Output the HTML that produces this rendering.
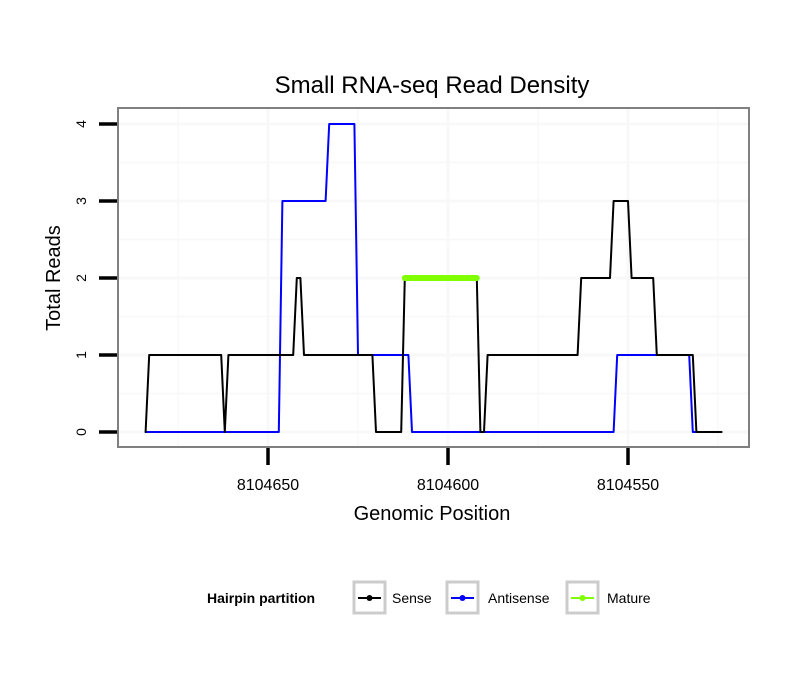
<!DOCTYPE html>
<html><head><meta charset="utf-8"><style>
body{margin:0;background:#fff;}
svg{display:block;font-family:"Liberation Sans",sans-serif;}
</style></head><body>
<svg id="chart" width="810" height="690">
<rect width="810" height="690" fill="#fff"/>
<text x="432" y="93" font-size="24" text-anchor="middle">Small RNA-seq Read Density</text>
<g id="grid"></g>
<g id="series"></g>
<rect x="118" y="108" width="631" height="339" fill="none" stroke="#808080" stroke-width="2"/>
<g id="axes"></g>
<text x="432" y="520" font-size="20" text-anchor="middle">Genomic Position</text>
<text transform="translate(60,278) rotate(-90)" font-size="20" text-anchor="middle">Total Reads</text>
<g>
<text x="207" y="603" font-size="14" font-weight="bold">Hairpin partition</text>
<g>
<rect x="354" y="582" width="31" height="31" fill="#fff" stroke="#ccc" stroke-width="3"/>
<line x1="358" y1="598" x2="381" y2="598" stroke="#000" stroke-width="2"/><circle cx="369.5" cy="598" r="3" fill="#000"/>
<text x="392" y="603" font-size="14">Sense</text></g>
<g>
<rect x="447" y="582" width="31" height="31" fill="#fff" stroke="#ccc" stroke-width="3"/>
<line x1="451" y1="598" x2="474" y2="598" stroke="#0000ff" stroke-width="2"/><circle cx="462.5" cy="598" r="3" fill="#0000ff"/>
<text x="488" y="603" font-size="14">Antisense</text></g>
<g>
<rect x="567" y="582" width="31" height="31" fill="#fff" stroke="#ccc" stroke-width="3"/>
<line x1="571" y1="598" x2="594" y2="598" stroke="#7fff00" stroke-width="2"/><circle cx="582.5" cy="598" r="3" fill="#7fff00"/>
<text x="607" y="603" font-size="14">Mature</text></g>
</g>
</svg>
<script>
const senseX=[8104684,8104683,8104663,8104662,8104661,8104643,8104642,8104641,8104640,8104621,8104620,8104613,8104612,8104592,8104591,8104590,8104589,8104564,8104563,8104555,8104554,8104550,8104549,8104543,8104542,8104532,8104531,8104524];
const senseY=[0,1,1,0,1,1,2,2,1,1,0,0,2,2,0,0,1,1,2,2,3,3,2,2,1,1,0,0];
const antiX=[8104684,8104647,8104646,8104634,8104633,8104626,8104625,8104611,8104610,8104554,8104553,8104533,8104532,8104531];
const antiY=[0,0,3,3,4,4,1,1,0,0,1,1,0,0];
const matureX=[8104612,8104592];
const matureY=[2,2];
const xTicks=[8104650,8104600,8104550];
const yTicks=[0,1,2,3,4];
const NS="http://www.w3.org/2000/svg";
function xs(p){return 268+(8104650-p)*3.6;}
function ys(v){return 432-v*77;}
function mk(tag,attrs,parent){const e=document.createElementNS(NS,tag);for(const k in attrs)e.setAttribute(k,attrs[k]);parent.appendChild(e);return e;}
const grid=document.getElementById('grid'),series=document.getElementById('series'),axes=document.getElementById('axes');
for(let p=8104675;p>=8104525;p-=25){const l=mk('line',{x1:xs(p),x2:xs(p),y1:109,y2:446,stroke:'#f8f8f8','stroke-width':(p%50===0)?3:1.5},grid);

}
for(let v=-0.5;v<=4.5;v+=0.5){const y=ys(v);if(y<109||y>446)continue;const l=mk('line',{x1:119,x2:748,y1:y,y2:y,stroke:'#f8f8f8','stroke-width':(v%1===0)?3:1.5},grid);

}
function path(X,Y,color,w,name){const d=X.map((x,i)=>(i?'L':'M')+xs(x)+','+ys(Y[i])).join(' ');const p=mk('path',{d:d,fill:'none',stroke:color,'stroke-width':w,'stroke-linecap':'round','stroke-linejoin':'round'},series);

}
path(antiX,antiY,'#0000ff',2,'antisense-line');
path(senseX,senseY,'#000',2,'sense-line');
path(matureX,matureY,'#7fff00',6,'mature-line');
yTicks.forEach(v=>{const y=ys(v);mk('line',{x1:99,x2:117,y1:y,y2:y,stroke:'#000','stroke-width':3.5},axes);
const t=mk('text',{transform:`translate(86,${y}) rotate(-90)`,'font-size':14,'text-anchor':'middle'},axes);t.textContent=v;

});
xTicks.forEach(p=>{const x=xs(p);mk('line',{x1:x,x2:x,y1:448,y2:465,stroke:'#000','stroke-width':3.5},axes);
const t=mk('text',{x:x,y:490,'font-size':16,'text-anchor':'middle'},axes);t.textContent=p;

});
</script>
</body></html>
